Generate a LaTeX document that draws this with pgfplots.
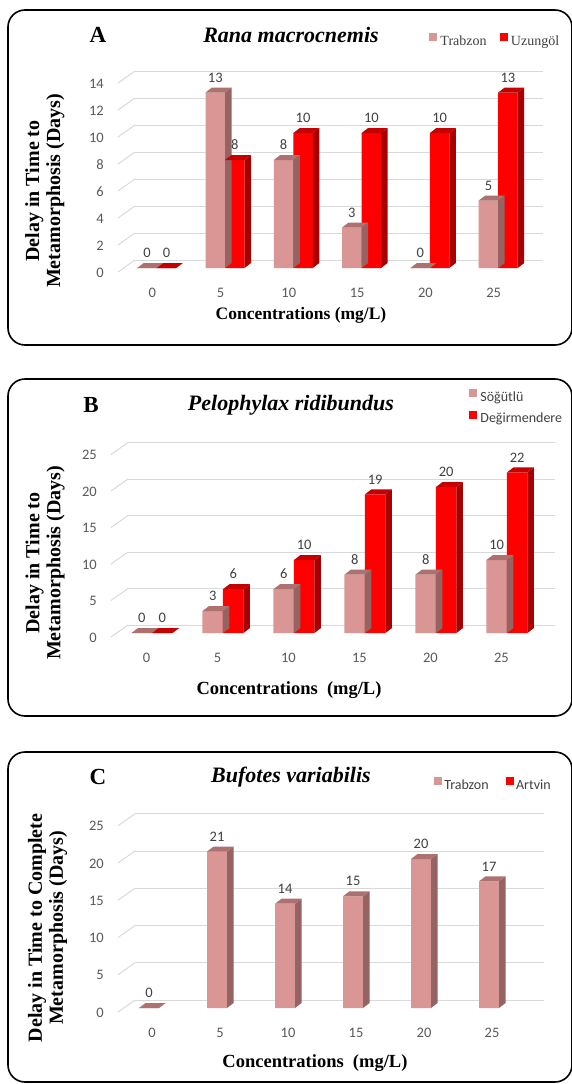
\documentclass[border=0pt]{standalone}
\usepackage{fontspec}
\setmainfont{Liberation Serif}
\newfontfamily\calibri{Carlito}
\usepackage{pgfplots}
\usepackage{pgfplotstable}
\pgfplotsset{compat=1.18}

\definecolor{trabF}{HTML}{D99694}
\definecolor{trabS}{HTML}{956361}
\definecolor{trabT}{HTML}{AD7270}
\definecolor{redF}{HTML}{FF0000}
\definecolor{redS}{HTML}{A80000}
\definecolor{redT}{HTML}{C40000}
\definecolor{gridc}{HTML}{D9D9D9}
\definecolor{tickc}{HTML}{595959}
\definecolor{lblc}{HTML}{404040}

\pgfplotstableread{
x t u
0 0 0
1 13 8
2 8 10
3 3 10
4 0 10
5 5 13
}\dataA
\pgfplotstableread{
x s d
0 0 0
1 3 6
2 6 10
3 8 19
4 8 20
5 10 22
}\dataB
\pgfplotstableread{
x t
0 0
1 21
2 14
3 15
4 20
5 17
}\dataC

% 3D side and top faces of a bar, drawn at the data point (group centre, bar top)
\def\dd{6.5}\def\ddy{5}\def\bw{19.5}
\pgfdeclareplotmark{cubeL}{%
  \pgfsetfillcolor{trabS}%
  \pgfpathmoveto{\pgfpoint{0pt}{0pt}}%
  \pgfpathlineto{\pgfpoint{\dd pt}{\ddy pt}}%
  \pgfpathlineto{\pgfpoint{\dd pt}{\ddy pt-\hh pt}}%
  \pgfpathlineto{\pgfpoint{0pt}{-\hh pt}}%
  \pgfpathclose\pgfusepath{fill}%
  \pgfsetfillcolor{trabT}%
  \pgfpathmoveto{\pgfpoint{-\bw pt}{0pt}}%
  \pgfpathlineto{\pgfpoint{0pt}{0pt}}%
  \pgfpathlineto{\pgfpoint{\dd pt}{\ddy pt}}%
  \pgfpathlineto{\pgfpoint{\dd pt-\bw pt}{\ddy pt}}%
  \pgfpathclose\pgfusepath{fill}%
}
\pgfdeclareplotmark{cubeR}{%
  \pgfsetfillcolor{redS}%
  \pgfpathmoveto{\pgfpoint{\bw pt}{0pt}}%
  \pgfpathlineto{\pgfpoint{\bw pt+\dd pt}{\ddy pt}}%
  \pgfpathlineto{\pgfpoint{\bw pt+\dd pt}{\ddy pt-\hh pt}}%
  \pgfpathlineto{\pgfpoint{\bw pt}{-\hh pt}}%
  \pgfpathclose\pgfusepath{fill}%
  \pgfsetfillcolor{redT}%
  \pgfpathmoveto{\pgfpoint{0pt}{0pt}}%
  \pgfpathlineto{\pgfpoint{\bw pt}{0pt}}%
  \pgfpathlineto{\pgfpoint{\bw pt+\dd pt}{\ddy pt}}%
  \pgfpathlineto{\pgfpoint{\dd pt}{\ddy pt}}%
  \pgfpathclose\pgfusepath{fill}%
}

\pgfplotsset{
  panel/.style={
    axis line style={draw=none}, major tick length=0pt, tick style={draw=none},
    enlargelimits=false, clip=false,
    ymajorgrids, major grid style={draw=gridc, line width=1pt, xshift=17pt, yshift=8pt},
    xtick={0,...,5}, xticklabels={0,5,10,15,20,25},
    /pgf/number format/assume math mode=true,
    ticklabel style={font=\calibri\fontsize{14.5}{14.5}\selectfont, text=tickc, inner sep=0pt},
    yticklabel style={anchor=east, xshift=-14pt, yshift=-4.5pt},
    xticklabel style={anchor=center, yshift=-24.5pt},
    every axis title shift=0pt,
    title style={font=\fontsize{22}{22}\selectfont\bfseries\itshape, anchor=center, inner sep=0pt},
    xlabel style={anchor=center, inner sep=0pt},
    ylabel style={anchor=center, inner sep=0pt, align=center, font=\fontsize{20}{21}\selectfont\bfseries},
    legend cell align=left,
    legend image code/.code={\fill[##1] (0pt,0.8pt) rectangle (7pt,7.8pt);},
  },
  front/.style 2 args={ybar, bar width=\bw pt, bar shift=#2, draw=none, fill=#1, forget plot,
    nodes near coords,
    every node near coord/.append style={font=\calibri\fontsize{14.5}{14.5}\selectfont, text=lblc, anchor=south, inner sep=0pt, yshift=10pt, xshift=#2}},
}

\begin{document}
\begin{tikzpicture}
\useasboundingbox (0,0) rectangle (571pt,-1084pt);
\draw[line width=1.6pt, rounded corners=17pt] (8pt,-10pt) rectangle (572pt,-345pt);
\draw[line width=1.6pt, rounded corners=17pt] (8pt,-379pt) rectangle (572pt,-716pt);
\draw[line width=1.6pt, rounded corners=17pt] (8pt,-752pt) rectangle (572pt,-1082pt);

% ---------- Panel A ----------
\def\bw{19.5}
\begin{axis}[panel, at={(118pt,-268pt)}, anchor=south west,
  x=68.3pt, y=13.5pt, xmin=-0.567, xmax=5.407, ymin=0, ymax=14,
  ytick={0,2,...,14},
  xticklabel style={xshift=-4.5pt},
  title={Rana macrocnemis}, title style={at={(0.424,1.2328)}},
  xlabel={Concentrations (mg/L)},
  xlabel style={at={(axis description cs:0.4485,-0.2487)}, font=\fontsize{17.5}{17.5}\selectfont\bfseries},
  ylabel={Delay in Time to\\Metamorphosis (Days)},
  ylabel style={at={(axis description cs:-0.179,0.4074)}},
  legend style={at={(0.7623,1.2063)}, anchor=west, draw=none, fill=none, inner sep=0pt, outer sep=0pt,
    font=\fontsize{14}{14}\selectfont, text=lblc, legend columns=2, nodes={inner sep=0pt},
    column sep=4pt, /tikz/every even column/.append style={column sep=13pt}},
]
\pgfplotsinvokeforeach{0,2,...,14}{\draw[gridc, line width=1pt] ([yshift=-4pt]axis cs:-0.567,#1) -- ++(17pt,12pt);}
\addplot[front={trabF}{-9.75pt}] table[x=x,y=t]{\dataA};
\addplot[forget plot, only marks, mark=cubeL, visualization depends on={\thisrow{t}*13.5 \as \hh}] table[x=x,y=t]{\dataA};
\addplot[front={redF}{9.75pt}] table[x=x,y=u]{\dataA};
\addplot[forget plot, only marks, mark=cubeR, visualization depends on={\thisrow{u}*13.5 \as \hh}] table[x=x,y=u]{\dataA};
\addlegendimage{trabF}\addlegendentry{Trabzon}
\addlegendimage{redF}\addlegendentry{Uzungöl}
\node[font=\fontsize{23}{23}\selectfont\bfseries, inner sep=0pt] at (axis description cs:-0.049,1.2328) {A};
\end{axis}

% ---------- Panel B ----------
\def\bw{20.5}
\begin{axis}[panel, at={(111pt,-633pt)}, anchor=south west,
  x=71pt, y=7.3pt, xmin=-0.577, xmax=5.437, ymin=0, ymax=25,
  ytick={0,5,...,25},
  xticklabel style={xshift=-5.5pt},
  title={Pelophylax ridibundus}, title style={at={(0.4215,1.2493)}},
  xlabel={Concentrations\ \ (mg/L)},
  xlabel style={at={(axis description cs:0.4169,-0.3123)}, font=\fontsize{18.5}{18.5}\selectfont\bfseries},
  ylabel={Delay in Time to\\Metamorphosis (Days)},
  ylabel style={at={(axis description cs:-0.1546,0.3836)}},
  legend style={at={(0.8384,1.337)}, anchor=north west, draw=none, fill=none, inner sep=0pt, outer sep=0pt,
    font=\calibri\fontsize{14}{14}\selectfont, text=lblc, legend columns=1, nodes={inner sep=0pt},
    column sep=4pt, row sep=8pt},
]
\pgfplotsinvokeforeach{0,5,...,25}{\draw[gridc, line width=1pt] ([yshift=-4pt]axis cs:-0.577,#1) -- ++(17pt,12pt);}
\addplot[front={trabF}{-10.25pt}] table[x=x,y=s]{\dataB};
\addplot[forget plot, only marks, mark=cubeL, visualization depends on={\thisrow{s}*7.3 \as \hh}] table[x=x,y=s]{\dataB};
\addplot[front={redF}{10.25pt}] table[x=x,y=d]{\dataB};
\addplot[forget plot, only marks, mark=cubeR, visualization depends on={\thisrow{d}*7.3 \as \hh}] table[x=x,y=d]{\dataB};
\addlegendimage{trabF}\addlegendentry{Söğütlü}
\addlegendimage{redF}\addlegendentry{Değirmendere}
\node[font=\fontsize{23}{23}\selectfont\bfseries, inner sep=0pt] at (axis description cs:-0.0468,1.2493) {B};
\end{axis}

% ---------- Panel C ----------
\def\bw{20}
\begin{axis}[panel, at={(118pt,-1008pt)}, anchor=south west,
  x=68pt, y=7.45pt, xmin=-0.603, xmax=5.41, ymin=0, ymax=25,
  ytick={0,5,...,25},
  xticklabel style={xshift=-7pt},
  title={Bufotes variabilis}, title style={at={(0.423,1.2403)}},
  xlabel={Concentrations\ \ (mg/L)},
  xlabel style={at={(axis description cs:0.4817,-0.2953)}, font=\fontsize{18.5}{18.5}\selectfont\bfseries},
  ylabel={Delay in Time to Complete\\Metamorphosis (Days)},
  ylabel style={at={(axis description cs:-0.1724,0.4295)}},
  legend style={at={(0.7726,1.2022)}, anchor=west, draw=none, fill=none, inner sep=0pt, outer sep=0pt,
    font=\calibri\fontsize{14}{14}\selectfont, text=lblc, legend columns=2, nodes={inner sep=0pt},
    column sep=3pt, /tikz/every even column/.append style={column sep=17pt}},
]
\pgfplotsinvokeforeach{0,5,...,25}{\draw[gridc, line width=1pt] ([yshift=-4pt]axis cs:-0.603,#1) -- ++(17pt,12pt);}
\addplot[front={trabF}{-10pt}] table[x=x,y=t]{\dataC};
\addplot[forget plot, only marks, mark=cubeL, visualization depends on={\thisrow{t}*7.45 \as \hh}] table[x=x,y=t]{\dataC};
\addlegendimage{trabF}\addlegendentry{Trabzon}
\addlegendimage{redF}\addlegendentry{Artvin}
\node[font=\fontsize{23}{23}\selectfont\bfseries, inner sep=0pt] at (axis description cs:-0.0489,1.2403) {C};
\end{axis}
\end{tikzpicture}
\end{document}
